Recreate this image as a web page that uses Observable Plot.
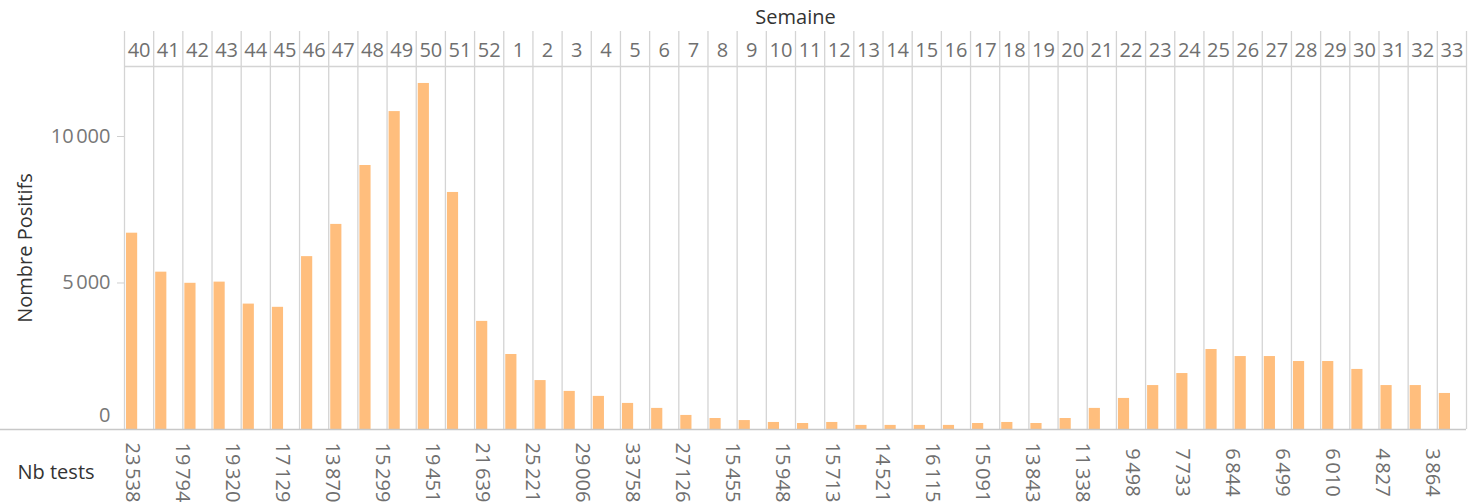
<!DOCTYPE html>
<html>
<head>
<meta charset="utf-8">
<script src="https://cdn.jsdelivr.net/npm/d3@7"></script>
<script src="https://cdn.jsdelivr.net/npm/@observablehq/plot@0.6"></script>
<style>
  html, body { margin: 0; padding: 0; background: #fff; }
  #chart svg { display: block; }
</style>
</head>
<body>
<div id="chart"></div>
<script>
// Semaine (week) categories
const weeks = [40, 41, 42, 43, 44, 45, 46, 47, 48, 49, 50, 51, 52,
  1, 2, 3, 4, 5, 6, 7, 8, 9, 10, 11, 12, 13, 14, 15, 16, 17, 18, 19, 20,
  21, 22, 23, 24, 25, 26, 27, 28, 29, 30, 31, 32, 33];
// Nombre Positifs per week
const positifs = [6700, 5370, 4990, 5030, 4280, 4170, 5900, 7000, 9010, 10850, 11810, 8090, 3690,
  2560, 1670, 1300, 1130, 890, 720, 480, 375, 305, 240, 205, 240, 140, 140, 140, 140, 205, 240, 205, 375,
  720, 1060, 1500, 1910, 2730, 2490, 2490, 2320, 2320, 2050, 1500, 1500, 1230];
// Nb tests labels (as displayed in the bottom row)
const nbTests = [23538, 19794, 19320, 17129, 13870, 15299, 19451, 21639, 25221, 29006, 33758, 27126,
  15455, 15948, 15713, 14521, 16115, 15091, 13843, 11338, 9498, 7733, 6844, 6499, 6010, 4827, 3864];
// Y axis ticks
const yTicks = [0, 5000, 10000];
const yMax = 12389;

const fr = d3.formatLocale({decimal: ",", thousands: "\u202F", grouping: [3], currency: ["", " €"]});
const fmt = fr.format(",d");

const rows = weeks.map((w, i) => ({i, w, v: positifs[i]}));

const font = "'Open Sans', sans-serif";
const grid = "#d4d4d4";

const main = Plot.plot({
  width: 1474,
  height: 433,
  marginLeft: 124,
  marginRight: 8,
  marginTop: 66,
  marginBottom: 4,
  style: {fontFamily: font, background: "#fff", overflow: "visible"},
  x: {type: "linear", domain: [0, weeks.length], axis: null},
  y: {domain: [0, yMax], axis: null},
  marks: [
    Plot.ruleX(d3.range(weeks.length + 1), {stroke: grid, strokeWidth: 1.3, insetTop: -35}),
    Plot.ruleY([yMax], {stroke: grid, strokeWidth: 1.6}),
    Plot.rectY(rows, {x1: "i", x2: d => d.i + 1, y: "v", fill: "#ffbe7d", insetLeft: 2, insetRight: 16}),
    Plot.ruleY([0], {stroke: "#c8c8c8", strokeWidth: 1.3, insetLeft: -124}),
    Plot.text(rows, {x: d => d.i + 0.5, text: d => String(d.w), frameAnchor: "top", lineAnchor: "middle",
      dy: -16, fontSize: 20, fill: "#6f6f6f"}),
    Plot.text(["Semaine"], {frameAnchor: "top", lineAnchor: "middle", dy: -49, fontSize: 20, fill: "#333"}),
    Plot.axisY(yTicks.slice(1), {tickSize: 7, tickPadding: 7, stroke: "#cfcfcf", fill: "#777",
      fontSize: 20, tickFormat: fmt, label: null}),
    Plot.axisY(yTicks.slice(0, 1), {tickSize: 0, tickPadding: 14, fill: "#777", dy: -14,
      fontSize: 20, tickFormat: fmt, label: null}),
    Plot.text(["Nombre Positifs"], {frameAnchor: "left", textAnchor: "middle", lineAnchor: "middle",
      rotate: -90, dx: -99, fontSize: 20, fill: "#333"})
  ]
});

const bottom = Plot.plot({
  width: 1474,
  height: 70,
  marginLeft: 107,
  marginRight: 17,
  marginTop: 8,
  marginBottom: 0,
  style: {fontFamily: font, background: "#fff"},
  x: {type: "band", domain: d3.range(nbTests.length), padding: 0, axis: null},
  marks: [
    Plot.text(nbTests, {x: (d, i) => i, text: d => fmt(d), rotate: 90, frameAnchor: "middle",
      fontSize: 20, fill: "#6f6f6f"}),
    Plot.text(["Nb tests"], {frameAnchor: "left", lineAnchor: "middle", dx: -90, textAnchor: "start",
      fontSize: 20, fill: "#333"})
  ]
});

const el = document.getElementById("chart");
el.appendChild(main);
el.appendChild(bottom);
</script>
</body>
</html>
